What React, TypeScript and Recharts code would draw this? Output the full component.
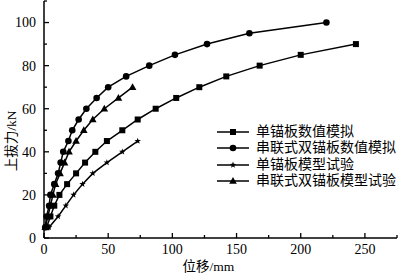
import React from 'react'
import { LineChart, Line, XAxis, YAxis } from 'recharts'

// load (kN) steps for each curve
const squareLoad = [5, 10, 15, 20, 25, 30, 35, 40, 45, 50, 55, 60, 65, 70, 75, 80, 85, 90]
const squareDisp = [2, 5, 8, 12, 18, 25, 32, 40, 49, 61, 73, 87, 103, 121, 142, 168, 200, 243]

const circleLoad = [5, 10, 15, 20, 25, 30, 35, 40, 45, 50, 55, 60, 65, 70, 75, 80, 85, 90, 95, 100]
const circleDisp = [1, 2, 4, 5, 8, 11, 13, 15, 19, 22, 27, 33, 41, 50, 64, 82, 102, 127, 160, 220]

const starLoad = [5, 10, 15, 20, 25, 30, 35, 40, 45]
const starDisp = [4, 11, 17, 23, 30, 38, 49, 61, 73]

const triLoad = [5, 10, 15, 20, 25, 30, 35, 40, 45, 50, 55, 60, 65, 70]
const triDisp = [1, 3, 5, 7, 9, 12.5, 16, 19.5, 25, 31, 38, 47, 58, 69]

const xTicks = [0, 25, 50, 75, 100, 125, 150, 175, 200, 225, 250, 275]
const yTicks = [0, 10, 20, 30, 40, 50, 60, 70, 80, 90, 100, 110]

const toPoints = (xs: number[], ys: number[]) => xs.map((x, i) => ({ x, y: ys[i] }))

const serif = '"Liberation Serif", "Times New Roman", "Noto Sans CJK SC", serif'
const cjk = '"Liberation Serif", "Noto Sans CJK SC", serif'

const Square = ({ cx, cy }: any) => <rect x={cx - 3} y={cy - 3} width={6} height={6} fill="#000" />
const Circle = ({ cx, cy }: any) => <circle cx={cx} cy={cy} r={3.3} fill="#000" />
const Triangle = ({ cx, cy }: any) => (
  <polygon points={`${cx},${cy - 4} ${cx - 3.8},${cy + 2.8} ${cx + 3.8},${cy + 2.8}`} fill="#000" />
)
const Star = ({ cx, cy }: any) => {
  const pts: string[] = []
  for (let i = 0; i < 10; i++) {
    const r = i % 2 === 0 ? 3.4 : 1.4
    const a = -Math.PI / 2 + (i * Math.PI) / 5
    pts.push(`${cx + r * Math.cos(a)},${cy + r * Math.sin(a)}`)
  }
  return <polygon points={pts.join(' ')} fill="#000" />
}

const series = [
  { name: '单锚板数值模拟', data: toPoints(squareDisp, squareLoad), Marker: Square },
  { name: '串联式双锚板数值模拟', data: toPoints(circleDisp, circleLoad), Marker: Circle },
  { name: '单锚板模型试验', data: toPoints(starDisp, starLoad), Marker: Star },
  { name: '串联式双锚板模型试验', data: toPoints(triDisp, triLoad), Marker: Triangle },
]

const XTick = ({ x, y, payload }: any) => {
  const major = payload.value % 50 === 0
  return (
    <g>
      <line x1={x} x2={x} y1={y - 6} y2={y - 6 - (major ? 5 : 3)} stroke="#000" strokeWidth={1.3} />
      {major && (
        <text x={x} y={y} dy="0.71em" textAnchor="middle" fontSize={14} fontFamily={serif} fill="#000">
          {payload.value}
        </text>
      )}
    </g>
  )
}

const YTick = ({ x, y, payload }: any) => {
  const major = payload.value % 20 === 0
  return (
    <g>
      <line x1={x + 8} x2={x + 8 + (major ? 5 : 3)} y1={y} y2={y} stroke="#000" strokeWidth={1.3} />
      {major && (
        <text x={x} y={y} dy="0.35em" textAnchor="end" fontSize={14} fontFamily={serif} fill="#000">
          {payload.value}
        </text>
      )}
    </g>
  )
}

const LegendBox = () => (
  <div
    style={{
      position: 'absolute',
      left: 216,
      top: 124,
      fontFamily: cjk,
      fontSize: 14,
      lineHeight: '16.3px',
      color: '#000',
      whiteSpace: 'nowrap',
    }}
  >
    {series.map(s => (
      <div key={s.name} style={{ display: 'flex', alignItems: 'center', height: 16.3 }}>
        <svg width={36} height={12} style={{ marginRight: 4 }}>
          <line x1={1} x2={33} y1={6} y2={6} stroke="#000" strokeWidth={1.5} />
          <s.Marker cx={17} cy={6} />
        </svg>
        <span>{s.name}</span>
      </div>
    ))}
  </div>
)

export default function App() {
  return (
    <div style={{ position: 'absolute', left: 0, top: 0, width: 401, height: 276, background: '#fff' }}>
      <LineChart width={401} height={276} margin={{ top: 1, right: 4, bottom: 0, left: 0 }}>
        <XAxis
          type="number"
          dataKey="x"
          domain={[0, 275]}
          ticks={xTicks}
          interval={0}
          tickSize={0}
          tickMargin={6}
          tick={<XTick />}
          height={38}
          axisLine={{ stroke: '#000', strokeWidth: 1.5 }}
          label={{
            content: ({ viewBox }: any) => (
              <text
                x={viewBox.x + viewBox.width / 2 - 12}
                y={viewBox.y + 28}
                dy="0.35em"
                textAnchor="middle"
                fontSize={13.5}
                fontFamily={cjk}
                fill="#000"
              >
                位移/mm
              </text>
            ),
          }}
        />
        <YAxis
          type="number"
          dataKey="y"
          domain={[0, 110]}
          ticks={yTicks}
          interval={0}
          tickSize={0}
          tickMargin={8}
          tick={<YTick />}
          width={44}
          axisLine={{ stroke: '#000', strokeWidth: 1.5 }}
          label={{
            content: ({ viewBox }: any) => {
              const cx = viewBox.x + 11
              const cy = viewBox.y + viewBox.height * 0.59
              return (
                <text
                  x={cx}
                  y={cy}
                  dy="0.35em"
                  textAnchor="middle"
                  transform={`rotate(-90, ${cx}, ${cy})`}
                  fontSize={13.5}
                  fontFamily={cjk}
                  fill="#000"
                >
                  上拔力/kN
                </text>
              )
            },
          }}
        />
        {series.map(s => (
          <Line
            key={s.name}
            data={s.data}
            dataKey="y"
            name={s.name}
            type="linear"
            stroke="#000"
            strokeWidth={1.5}
            dot={<s.Marker />}
            isAnimationActive={false}
          />
        ))}
      </LineChart>
      <LegendBox />
    </div>
  )
}
